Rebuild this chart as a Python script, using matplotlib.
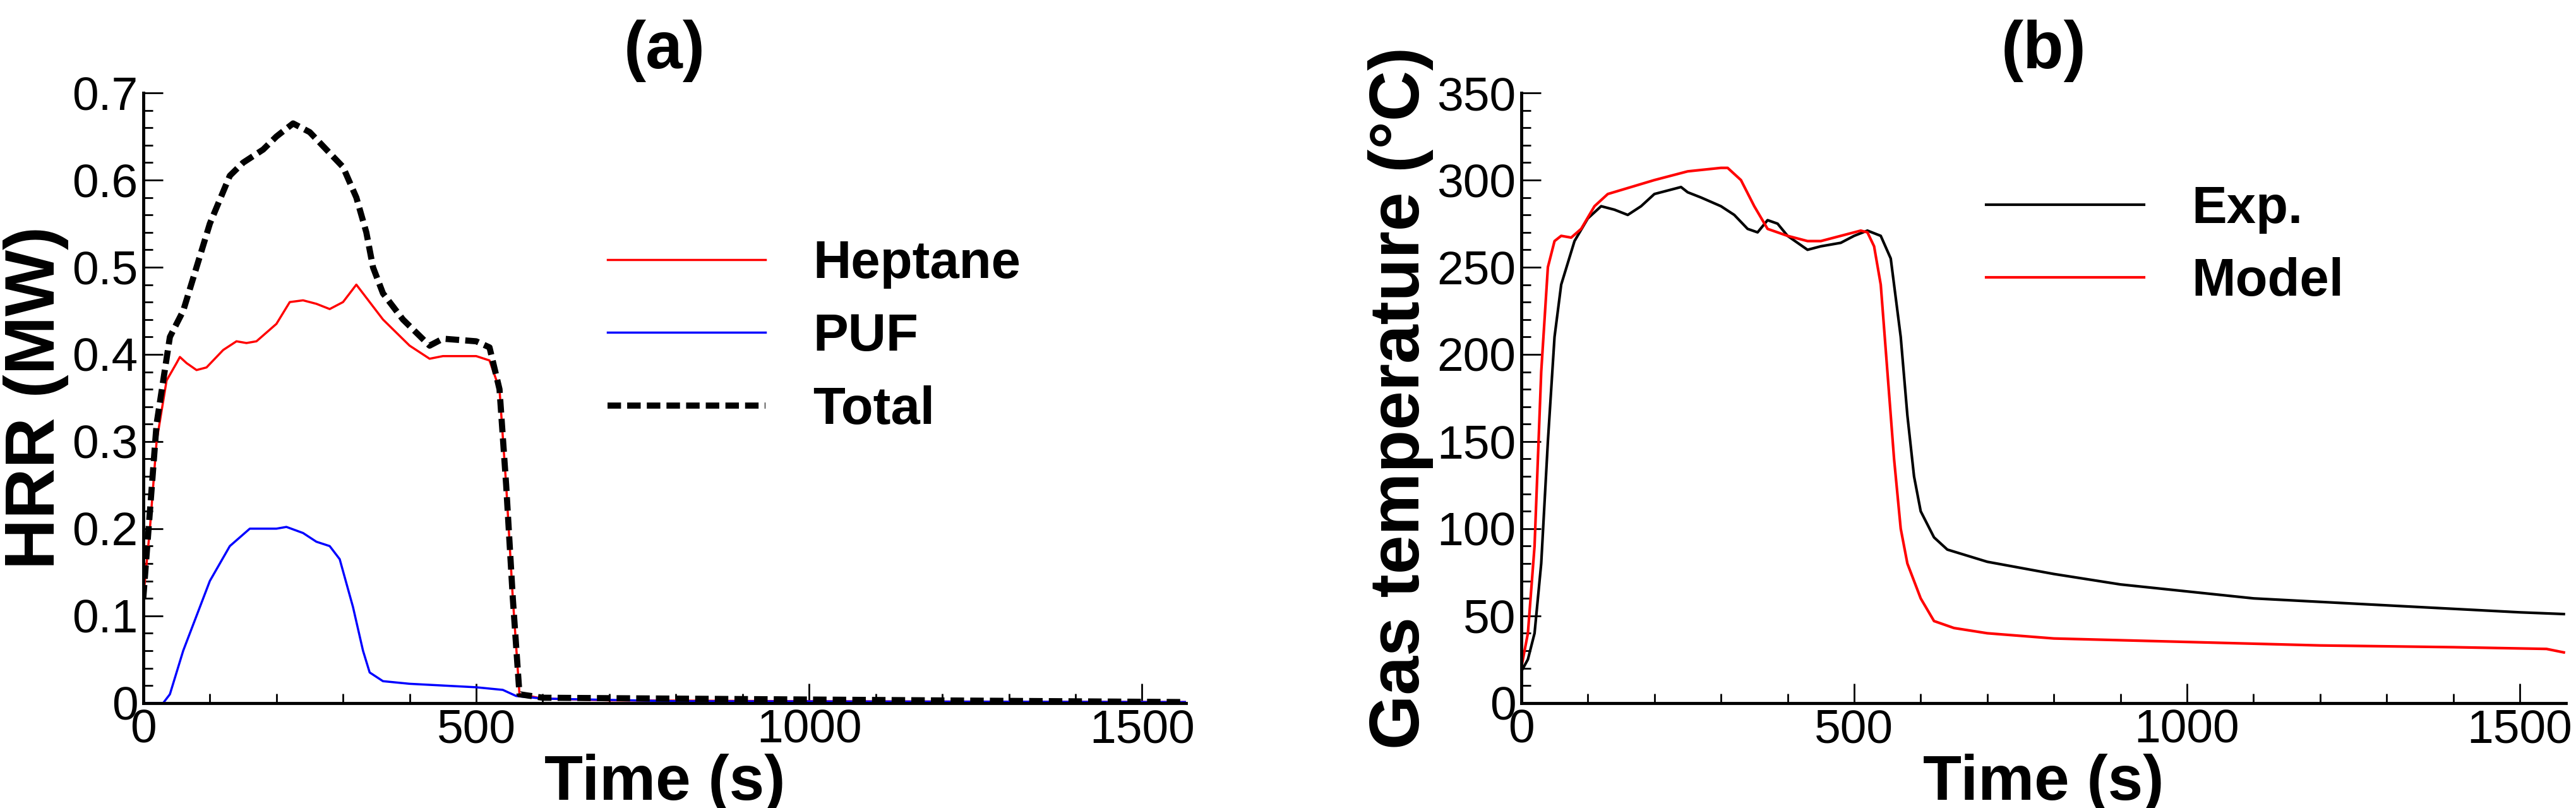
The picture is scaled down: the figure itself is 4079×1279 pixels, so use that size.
import matplotlib
matplotlib.use("Agg")
import matplotlib.pyplot as plt
from matplotlib.ticker import MultipleLocator, FuncFormatter

plt.rcParams["font.family"] = ["Liberation Sans Narrow", "Liberation Sans", "DejaVu Sans"]
BOLD = ["Liberation Sans", "DejaVu Sans"]

# (a) HRR
hep_t = [0, 10, 20, 35, 50, 55, 65, 80, 95, 120, 140, 155, 170, 200, 220, 240, 260, 280, 300, 320,
         335, 360, 400, 430, 450, 500, 520, 535, 545, 555, 565, 600, 700, 1000, 1566]
hep_q = [0.12, 0.2, 0.3, 0.37, 0.39, 0.397, 0.39, 0.382, 0.385, 0.405, 0.415, 0.413, 0.415, 0.435,
         0.46, 0.462, 0.458, 0.452, 0.46, 0.48, 0.465, 0.44, 0.41, 0.395, 0.398, 0.398, 0.393, 0.36,
         0.25, 0.12, 0.01, 0.005, 0.003, 0.002, 0.001]
puf_t = [0, 30, 40, 60, 80, 100, 130, 160, 200, 215, 240, 260, 280, 295, 315, 330, 340, 360, 400,
         450, 500, 540, 560, 600, 800, 1566]
puf_q = [0, 0, 0.01, 0.06, 0.1, 0.14, 0.18, 0.2, 0.2, 0.202, 0.195, 0.185, 0.18, 0.165, 0.11, 0.06,
         0.035, 0.025, 0.022, 0.02, 0.018, 0.015, 0.008, 0.005, 0.002, 0.001]
tot_t = [0, 20, 40, 60, 80, 100, 130, 150, 180, 200, 225, 250, 275, 300, 320, 335, 345, 360, 390,
         430, 450, 500, 520, 535, 545, 555, 565, 600, 1566]
tot_q = [0.12, 0.32, 0.42, 0.45, 0.5, 0.55, 0.605, 0.62, 0.635, 0.65, 0.665, 0.655, 0.635, 0.615,
         0.58, 0.54, 0.5, 0.47, 0.44, 0.41, 0.418, 0.415, 0.408, 0.36, 0.25, 0.12, 0.01, 0.006, 0.001]

# (b) gas temperature
exp_t = [0, 10, 20, 30, 40, 50, 60, 80, 100, 120, 140, 160, 180, 200, 240, 250, 270, 300, 320, 340,
         355, 370, 385, 400, 430, 450, 480, 500, 520, 540, 555, 570, 580, 590, 600, 620, 640, 700,
         800, 900, 1000, 1100, 1200, 1300, 1400, 1500, 1566]
exp_T = [18, 25, 40, 80, 150, 210, 240, 265, 278, 285, 283, 280, 285, 292, 296, 293, 290, 285, 280,
         272, 270, 277, 275, 268, 260, 262, 264, 268, 271, 268, 255, 210, 165, 130, 110, 95, 88, 81,
         74, 68, 64, 60, 58, 56, 54, 52, 51]
mod_t = [0, 10, 20, 30, 40, 50, 60, 75, 90, 110, 130, 200, 250, 300, 310, 330, 350, 370, 400, 430,
         450, 480, 510, 520, 530, 540, 550, 560, 570, 580, 600, 620, 650, 700, 800, 1000, 1200, 1400,
         1540, 1566]
mod_T = [20, 40, 90, 190, 250, 265, 268, 267, 272, 285, 292, 300, 305, 307, 307, 300, 285, 272, 268,
         265, 265, 268, 271, 270, 262, 240, 190, 140, 100, 80, 60, 47, 43, 40, 37, 35, 33, 32, 31, 29]

fig = plt.figure(figsize=(40.8, 12.79), dpi=100)
ax1 = fig.add_axes([0.0556, 0.13, 0.4047, 0.755])
ax2 = fig.add_axes([0.5904, 0.13, 0.4054, 0.755])

ax1.plot(hep_t, hep_q, color="#ff0000", lw=2.5, label="Heptane")
ax1.plot(puf_t, puf_q, color="#0000ff", lw=2.5, label="PUF")
ax1.plot(tot_t, tot_q, color="black", lw=7, ls=(0, (2.2, 1.0)), label="Total")
ax1.set_xlim(0, 1566)
ax1.set_ylim(0, 0.7)
ax1.yaxis.set_major_locator(MultipleLocator(0.1))
ax1.yaxis.set_minor_locator(MultipleLocator(0.02))
ax1.yaxis.set_major_formatter(FuncFormatter(lambda v, p: "0" if abs(v) < 1e-9 else f"{v:.1f}"))
ax1.set_ylabel("HRR (MW)", fontsize=80, fontweight="bold", family=BOLD, labelpad=4)
ax1.set_title("(a)", fontsize=76, fontweight="bold", pad=28, family=BOLD)
ax1.legend(loc="center left", bbox_to_anchor=(0.40, 0.6), frameon=False, handlelength=3.0,
           handletextpad=0.9, labelspacing=0.45, prop={"size": 60, "weight": "bold", "family": BOLD})

ax2.plot(exp_t, exp_T, color="black", lw=3, label="Exp.")
ax2.plot(mod_t, mod_T, color="#ff0000", lw=3, label="Model")
ax2.set_xlim(0, 1569)
ax2.set_ylim(0, 350)
ax2.yaxis.set_major_locator(MultipleLocator(50))
ax2.yaxis.set_minor_locator(MultipleLocator(10))
ax2.set_ylabel("Gas temperature (\u00b0C)", fontsize=80, fontweight="bold", family=BOLD, labelpad=4)
ax2.set_title("(b)", fontsize=76, fontweight="bold", pad=28, family=BOLD)
ax2.legend(loc="center left", bbox_to_anchor=(0.40, 0.75), frameon=False, handlelength=3.0,
           handletextpad=0.9, labelspacing=0.45, prop={"size": 60, "weight": "bold", "family": BOLD})

for ax in (ax1, ax2):
    ax.spines["top"].set_visible(False)
    ax.spines["right"].set_visible(False)
    for s in ("left", "bottom"):
        ax.spines[s].set_linewidth(3.5)
    ax.xaxis.set_major_locator(MultipleLocator(500))
    ax.xaxis.set_minor_locator(MultipleLocator(100))
    ax.tick_params(which="both", direction="in", width=2, labelsize=54)
    ax.tick_params(which="major", length=22, pad=6)
    ax.tick_params(which="minor", length=11)
    ax.set_xlabel("Time (s)", fontsize=72, fontweight="bold", family=BOLD, labelpad=2)

fig.savefig("out.png", dpi=100)
